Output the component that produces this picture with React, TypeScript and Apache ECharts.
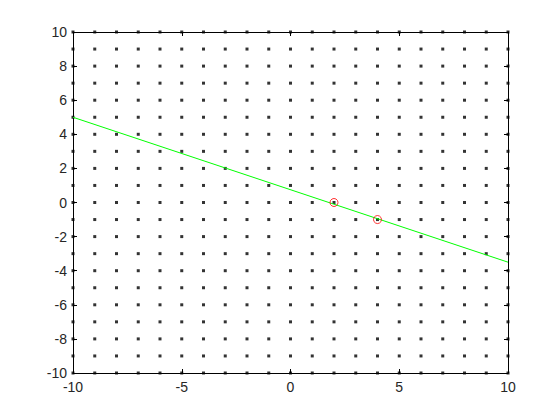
import React, { useEffect, useRef } from "react";
import * as echarts from "echarts";

const gridXs = [-10, -9, -8, -7, -6, -5, -4, -3, -2, -1, 0, 1, 2, 3, 4, 5, 6, 7, 8, 9, 10];
const gridYs = [-10, -9, -8, -7, -6, -5, -4, -3, -2, -1, 0, 1, 2, 3, 4, 5, 6, 7, 8, 9, 10];
const lineXs = [-10, 10];
const lineYs = [5, -3.5];
const pointXs = [2, 4];
const pointYs = [0, -1];

export default function App() {
  const ref = useRef<HTMLDivElement>(null);
  useEffect(() => {
    document.body.style.margin = "0";
    const chart = echarts.init(ref.current!, null, { renderer: "svg" });
    const dots: number[][] = [];
    gridXs.forEach((x) => gridYs.forEach((y) => dots.push([x, y])));
    const axisCommon = {
      type: "value" as const,
      min: -10,
      max: 10,
      axisLine: { show: true, onZero: false, lineStyle: { color: "#000", width: 1 } },
      axisTick: { show: true, inside: true, length: 4, lineStyle: { color: "#000" } },
      splitLine: { show: false },
    };
    const labelStyle = { color: "#262626", fontSize: 14, fontFamily: "Liberation Sans, Arial, sans-serif" };
    chart.setOption({
      animation: false,
      grid: { left: 73, right: 52, top: 32, bottom: 47 },
      xAxis: [
        { ...axisCommon, position: "bottom", interval: 5, axisLabel: { ...labelStyle, margin: 7 } },
        { ...axisCommon, position: "top", interval: 5, axisLabel: { show: false } },
      ],
      yAxis: [
        { ...axisCommon, position: "left", interval: 2, axisLabel: { ...labelStyle, margin: 6 } },
        { ...axisCommon, position: "right", interval: 2, axisLabel: { show: false } },
      ],
      series: [
        {
          type: "scatter",
          data: dots,
          symbol: "rect",
          symbolSize: 3,
          itemStyle: { color: "#000" },
          silent: true,
          z: 2,
        },
        {
          type: "line",
          data: lineXs.map((x, i) => [x, lineYs[i]]),
          showSymbol: false,
          lineStyle: { color: "#00ff00", width: 1 },
          z: 3,
        },
        {
          type: "scatter",
          data: pointXs.map((x, i) => [x, pointYs[i]]),
          symbol: "circle",
          symbolSize: 8,
          itemStyle: { color: "none", borderColor: "#ff0000", borderWidth: 1 },
          z: 4,
        },
      ],
    });
    return () => chart.dispose();
  }, []);
  return <div ref={ref} style={{ width: 560, height: 420, background: "#fff" }} />;
}
